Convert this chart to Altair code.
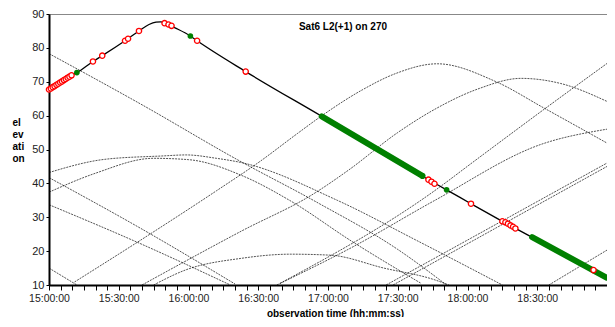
import json
import altair as alt
import pandas as pd

# ---- data (minutes after 15:00:00, elevation in degrees) ----
TICK_LABELS = ["15:00:00", "15:30:00", "16:00:00", "16:30:00",
               "17:00:00", "17:30:00", "18:00:00", "18:30:00"]
TITLE = "Sat6 L2(+1) on 270"

# tracked satellite (solid line)
MAIN_T = [0, 9.7, 12, 18.9, 22.9, 32.7, 38.7, 43, 46, 48, 50.5, 54, 60.8, 63.7,
          84.6, 117.3, 163.2, 171, 181.5, 195, 200.6, 207.8, 234.2, 240]
MAIN_E = [67.7, 71.9, 72.7, 76, 77.7, 82.1, 85, 86.9, 87.6, 87.7, 87.2, 86.0, 83.5, 82.1,
          73, 59.8, 41.1, 38.1, 34, 28.8, 26.7, 24.1, 14.4, 12.2]

# thick green stretches (dense green markers)
GREEN_BAND_SEG = ["a", "a", "b", "b"]
GREEN_BAND_T = [117.3, 160.6, 207.8, 239.8]
GREEN_BAND_E = [59.8, 42.2, 24.1, 12.2]

# single green markers
GREEN_T = [12, 60.8, 160.6, 171]
GREEN_E = [72.7, 83.5, 42.2, 38.1]

# red open circles
RED_T = [0, 0.8, 1.6, 2.4, 3.2, 4.0, 4.8, 5.6, 6.4, 7.2, 8.0, 8.8, 9.7,
         18.9, 22.9, 32.7, 34, 38.7, 49.7, 51.4, 52.7, 63.7, 84.6,
         163.2, 164.5, 165.8, 181.5, 195, 196.3, 197.4, 198.5, 199.6, 200.6, 234.2]
RED_E = [67.7, 68.0, 68.4, 68.7, 69.1, 69.4, 69.8, 70.1, 70.5, 70.8, 71.2, 71.5, 71.9,
         76, 77.7, 82.1, 82.7, 85, 87.3, 86.9, 86.5, 82.1, 73,
         41.1, 40.5, 39.9, 34, 28.8, 28.5, 28.1, 27.6, 27.2, 26.7, 14.4]

# other satellites (dotted lines)
D1_T = [0, 40, 81, 115, 150, 171];            D1_E = [78.3, 63.2, 47, 34.5, 20.5, 10]
C1_T = [0, 24, 49, 59, 72, 83, 124, 158, 195]; C1_E = [43.2, 47.1, 48.1, 48.4, 47.4, 46.1, 35, 23.2, 10]
C2_T = [0, 20, 45, 60, 83, 103.7, 130, 160];  C2_E = [37.4, 43, 47.4, 47, 42.3, 34.9, 23, 10.5]
D4_T = [0, 40, 80];                           D4_E = [41.7, 26.5, 10.3]
D5_T = [0, 40, 78];                           D5_E = [33.7, 22, 10]
D6_T = [0, 12];                               D6_E = [15, 10]
R1_T = [11, 40, 72, 91, 107, 117, 135, 149, 167, 192, 213, 240]
R1_E = [10.9, 23.5, 37.8, 46.6, 54.8, 59.8, 67.7, 72.4, 75.3, 70.1, 62.2, 51.9]
R2_T = [40, 83, 114, 129, 150, 166, 185, 203, 220, 240]
R2_E = [10, 26, 37, 44, 55, 61.9, 68, 71, 69.5, 64.2]
R3_T = [98, 130, 166, 212, 240];              R3_E = [10, 21, 35, 51.6, 56]
R6_T = [99.4, 166, 183, 213, 240];            R6_E = [10.5, 37.9, 46.6, 61.9, 75.4]
R4_T = [145, 240];                            R4_E = [10, 46]
R5_T = [148, 240];                            R5_E = [10, 45]
R7_T = [215, 240];                            R7_E = [10, 20.3]
L1_T = [45, 58.6, 83, 104, 121, 144, 166, 172]
L1_E = [10, 14.4, 17.9, 19.1, 18.8, 15, 11.5, 10]

BG = {"D1": (D1_T, D1_E), "C1": (C1_T, C1_E), "C2": (C2_T, C2_E), "D4": (D4_T, D4_E),
      "D5": (D5_T, D5_E), "D6": (D6_T, D6_E), "R1": (R1_T, R1_E), "R2": (R2_T, R2_E),
      "R3": (R3_T, R3_E), "R6": (R6_T, R6_E), "R4": (R4_T, R4_E), "R5": (R5_T, R5_E),
      "R7": (R7_T, R7_E), "L1": (L1_T, L1_E)}

rows = []
for name, (ts, es) in BG.items():
    for i, (t, e) in enumerate(zip(ts, es)):
        rows.append({"sat": name, "i": i, "t": t, "e": e})
bg_df = pd.DataFrame(rows)
main_df = pd.DataFrame({"t": MAIN_T, "e": MAIN_E})
band_df = pd.DataFrame({"seg": GREEN_BAND_SEG, "t": GREEN_BAND_T, "e": GREEN_BAND_E})
green_df = pd.DataFrame({"t": GREEN_T, "e": GREEN_E})
red_df = pd.DataFrame({"t": RED_T, "e": RED_E})

xscale = alt.Scale(domain=[0, 240], nice=False, zero=False)
yscale = alt.Scale(domain=[10, 90], nice=False, zero=False)

label_expr = "datum.value % 30 == 0 ? " + json.dumps(TICK_LABELS) + "[datum.value / 30] : ''"

x_axis = alt.Axis(values=list(range(0, 240, 5)), labelExpr=label_expr, grid=False,
                  tickSize=5, tickColor="#000", tickWidth=1, labelPadding=3,
                  labelFontSize=10.5, labelColor="#222", labelFont="Liberation Sans",
                  labelOverlap=False, labelBound=False, labelFlush=False,
                  domainColor="#000", domainWidth=2,
                  title="observation time (hh:mm:ss)", titleFont="Liberation Sans",
                  titleFontSize=10, titleFontWeight="bold", titleColor="#000",
                  titleX=286, titleY=31, titleAlign="center", titleBaseline="alphabetic")
y_axis = alt.Axis(values=list(range(10, 91, 10)), grid=False, tickSize=3, tickColor="#000",
                  labelPadding=2, labelFontSize=11, labelColor="#222",
                  labelFont="Liberation Sans", domainColor="#000", domainWidth=2,
                  title=["el", "ev", "ati", "on"], titleFont="Liberation Sans",
                  titleFontSize=10, titleFontWeight="bold", titleColor="#000",
                  titleAngle=0, titleAlign="left", titleBaseline="top",
                  titleX=-37, titleY=103, titleLineHeight=12)

X = alt.X("t:Q", scale=xscale, axis=x_axis)
Y = alt.Y("e:Q", scale=yscale, axis=y_axis)

bg = alt.Chart(bg_df).mark_line(color="#000", strokeWidth=0.8, strokeDash=[2, 1],
                                 opacity=0.85, interpolate="monotone").encode(
    x=X, y=Y, detail="sat:N", order="i:Q")

main = alt.Chart(main_df).mark_line(color="#000", strokeWidth=1.3,
                                     interpolate="monotone").encode(x=X, y=Y)

band = alt.Chart(band_df).mark_line(color="#008000", strokeWidth=6,
                                     strokeCap="round").encode(x=X, y=Y, detail="seg:N")

greens = alt.Chart(green_df).mark_point(shape="circle", filled=True, color="#008000",
                                         size=32, opacity=1).encode(x=X, y=Y)

reds = alt.Chart(red_df).mark_point(shape="circle", filled=False, fill="white", fillOpacity=1,
                                     stroke="#ff0000", strokeWidth=1.3, size=28,
                                     opacity=1).encode(x=X, y=Y)

title = alt.Chart(pd.DataFrame({"label": [TITLE]})).mark_text(
    font="Liberation Sans", fontSize=10, fontWeight="bold", color="#000",
    align="center", baseline="alphabetic").encode(
    text="label:N", x=alt.value(294), y=alt.value(16))

chart = alt.layer(bg, main, band, reds, greens, title).properties(
    width=558, height=271, background="white",
    autosize=alt.AutoSizeParams(type="none"),
    padding={"left": 41, "top": 6, "right": 0, "bottom": 32},
).configure_view(stroke="#888888", strokeWidth=1)

chart.save("out.html", embed_options={"renderer": "svg", "actions": False})
